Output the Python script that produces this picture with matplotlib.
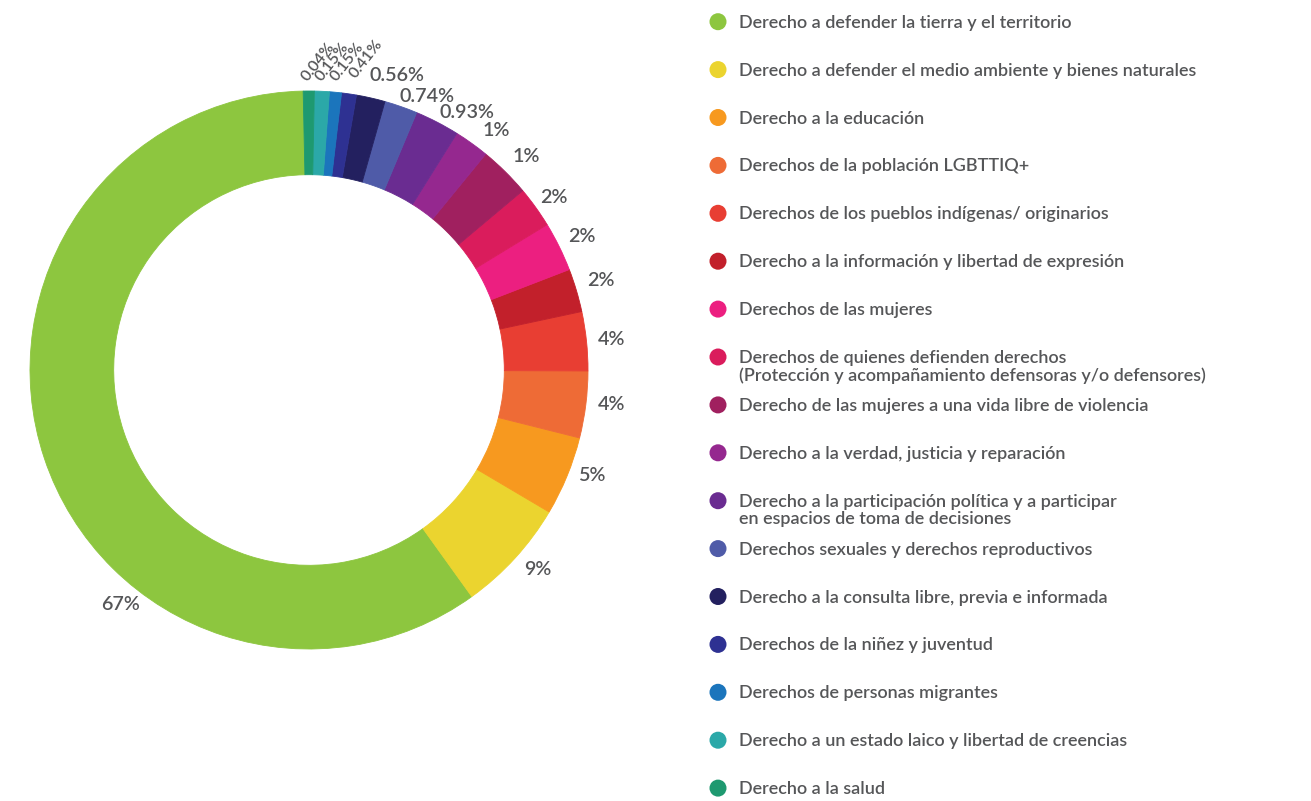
import matplotlib
matplotlib.use("Agg")
import matplotlib.pyplot as plt
import numpy as np

# legend categories, in slice order
categories = [
    "Derecho a defender la tierra y el territorio",
    "Derecho a defender el medio ambiente y bienes naturales",
    "Derecho a la educación",
    "Derechos de la población LGBTTIQ+",
    "Derechos de los pueblos indígenas/ originarios",
    "Derecho a la información y libertad de expresión",
    "Derechos de las mujeres",
    "Derechos de quienes defienden derechos\n(Protección y acompañamiento defensoras y/o defensores)",
    "Derecho de las mujeres a una vida libre de violencia",
    "Derecho a la verdad, justicia y reparación",
    "Derecho a la participación política y a participar\nen espacios de toma de decisiones",
    "Derechos sexuales y derechos reproductivos",
    "Derecho a la consulta libre, previa e informada",
    "Derechos de la niñez y juventud",
    "Derechos de personas migrantes",
    "Derecho a un estado laico y libertad de creencias",
    "Derecho a la salud",
]

# printed labels
pct_labels = ["67%", "9%", "5%", "4%", "4%", "2%", "2%", "2%", "1%", "1%",
              "0.93%", "0.74%", "0.56%", "0.41%", "0.15%", "0.15%", "0.04%"]

# slice sizes as drawn in the original (degrees of arc, not the printed %)
slice_deg = [214.5, 23.7, 16.5, 13.9, 12.3, 9.0, 10.3, 8.6, 10.7, 7.3,
             9.3, 6.9, 6.0, 3.1, 2.5, 3.1, 2.3]

colors = ["#8DC63F", "#EBD42F", "#F7991F", "#EE6B36", "#E83E33", "#C2202B",
          "#EC1F80", "#DA1C5C", "#A0205F", "#95288F", "#6A2C91", "#4F5BA8",
          "#23205F", "#2E3192", "#1B75BC", "#2BA8A8", "#1E9970"]

# where the % labels sit around the ring (angle in degrees, radius in ring units)
label_angle = [231.1, -41.1, -20.5, -6.6, 5.7, 17.0, 26.0, 35.2, 44.6, 52.0,
               58.5, 66.7, 73.3, 79.6, 83.0, 85.7, 88.3]
label_radius = [1.078, 1.090, 1.083, 1.090, 1.091, 1.094, 1.088, 1.075, 1.092,
                1.088, 1.084, 1.066, 1.102, 1.133, 1.112, 1.107, 1.104]

W, H = 1311, 801
CX, CY, R = 309, 370, 279
TXT = "#555658"
FONT = "Lato"

fig = plt.figure(figsize=(W / 100, H / 100), dpi=100)
fig.patch.set_facecolor("white")

ax = fig.add_axes([(CX - R) / W, 1 - (CY + R) / H, 2 * R / W, 2 * R / H])
wedges, _ = ax.pie(slice_deg, colors=colors, startangle=91.2, counterclock=True,
                   radius=1, wedgeprops=dict(width=0.30, linewidth=0.6))
for w, c in zip(wedges, colors):
    w.set_edgecolor(c)
ax.set_xlim(-1, 1)
ax.set_ylim(-1, 1)
ax.set_aspect("equal")
ax.axis("off")

for i, (lab, a, r) in enumerate(zip(pct_labels, label_angle, label_radius)):
    small = i >= 13
    x, y = r * np.cos(np.radians(a)), r * np.sin(np.radians(a))
    ax.text(x, y, lab, ha="center", va="center", color=TXT,
            fontsize=11.5 if small else 14.2, rotation=52 if small else 0,
            family=FONT, fontweight="semibold", clip_on=False)

# legend drawn by hand so the rows keep a fixed pitch
lax = fig.add_axes([0, 0, 1, 1])
lax.set_xlim(0, W)
lax.set_ylim(H, 0)
lax.axis("off")
lax.patch.set_visible(False)
rows = 21.7 + 47.9 * np.arange(len(categories))
lax.scatter(np.full(len(rows), 718), rows, s=150, c=colors, edgecolors="none")
for yy, name in zip(rows, categories):
    lax.text(739, yy - 7, name, ha="left", va="top", color=TXT,
             fontsize=13, family=FONT, fontweight="semibold", linespacing=1.1)

fig.savefig("out.png", dpi=100, facecolor="white")
